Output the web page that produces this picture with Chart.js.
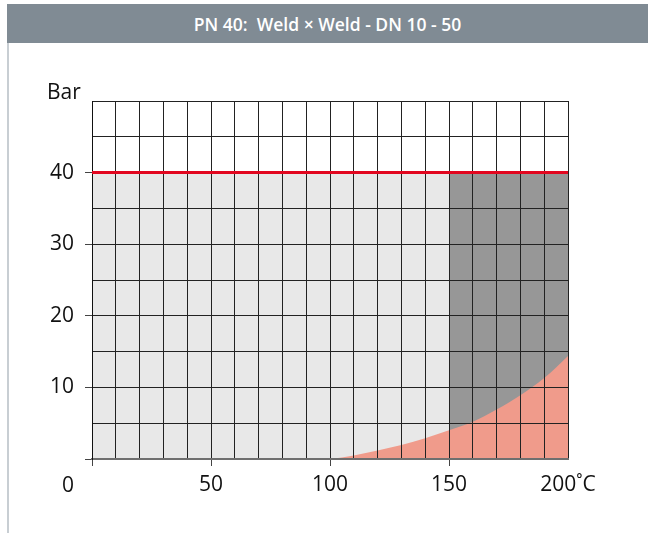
<!DOCTYPE html>
<html>
<head>
<meta charset="utf-8">
<script src="https://cdn.jsdelivr.net/npm/chart.js@4.4.1/dist/chart.umd.min.js"></script>
<style>
    body { margin: 0; width: 648px; height: 533px; background: #fff; position: relative; overflow: hidden; }
    #header {
        position: absolute; left: 7px; top: 4px; width: 641px; height: 39px;
        background: #808b94; color: #fff;
        font-family: 'Open Sans', sans-serif; font-weight: 600; font-size: 17.5px;
        line-height: 40px; white-space: pre; text-align: center;
    }
    #sideLine { position: absolute; left: 7px; top: 43px; width: 2px; height: 490px; background: #c8ced3; }
    #chartBox { position: absolute; left: 0; top: 0; width: 648px; height: 533px; }
</style>
</head>
<body>
<div id="header">PN 40:  Weld × Weld - DN 10 - 50</div>
<div id="sideLine"></div>
<div id="chartBox"><canvas id="chart"></canvas></div>

<script>
// axis ranges (°C and bar)
const tempMin = 0;
const tempMax = 200;
const pressureMin = 0;
const pressureMax = 50;

// max working pressure line
const pnTemps = [0, 200];
const pnPressure = [40, 40];

// light grey zone and dark grey zone
const lightZoneTemps = [0, 150];
const lightZonePressure = [40, 40];
const darkZoneTemps = [150, 200];
const darkZonePressure = [40, 40];

// red curve (temperature vs. pressure)
const curveTemps = [100, 110, 120, 130, 140, 150, 160, 170, 180, 190, 200];
const curvePressure = [0, 0.5, 1.2, 1.95, 2.9, 4.0, 5.2, 6.9, 8.9, 11.3, 14.4];

// tick labels
const xLabels = { 50: '50', 100: '100', 150: '150', 200: '200˚C' };
const yLabels = [10, 20, 30, 40];
const xTicksMarked = [0, 50, 100, 150];

const toPoints = (xs, ys) => xs.map((x, i) => ({ x: x, y: ys[i] }));

const fontLabels = { family: "'Open Sans', sans-serif", size: 21 };

// grid must sit above the filled zones, the red line above everything
const gridOnTop = {
    id: 'gridOnTop',
    beforeDatasetDraw(chart, args) {
        if (args.index !== 0) return;
        chart.scales.x.drawGrid(chart.chartArea);
        chart.scales.y.drawGrid(chart.chartArea);
        chart.scales.x.drawBorder();
        chart.scales.y.drawBorder();
    },
    afterDraw(chart) {
        const ctx = chart.ctx;
        const xs = chart.scales.x;
        ctx.save();
        ctx.fillStyle = '#111';
        ctx.font = "21px 'Open Sans', sans-serif";
        ctx.textAlign = 'left';
        ctx.textBaseline = 'alphabetic';
        ctx.fillText('Bar', 47, 99);
        ctx.textAlign = 'center';
        ctx.fillText('0', xs.getPixelForValue(0) - 24, xs.top + 33);
        ctx.restore();
    }
};

const ctx = document.getElementById('chart').getContext('2d');
const chart = new Chart(ctx, {
    type: 'line',
    data: {
        datasets: [
            {
                label: 'PN 40',
                data: toPoints(pnTemps, pnPressure),
                borderColor: '#e2061f',
                borderWidth: 3,
                pointRadius: 0,
                fill: false,
                order: 0
            },
            {
                label: 'curve',
                data: toPoints(curveTemps, curvePressure),
                borderColor: 'rgba(0,0,0,0)',
                backgroundColor: '#f09b8b',
                borderWidth: 0,
                pointRadius: 0,
                cubicInterpolationMode: 'monotone',
                fill: 'origin',
                order: 1
            },
            {
                label: 'dark',
                data: toPoints(darkZoneTemps, darkZonePressure),
                borderColor: 'rgba(0,0,0,0)',
                backgroundColor: '#979797',
                borderWidth: 0,
                pointRadius: 0,
                fill: 'origin',
                order: 2
            },
            {
                label: 'light',
                data: toPoints(lightZoneTemps, lightZonePressure),
                borderColor: 'rgba(0,0,0,0)',
                backgroundColor: '#e8e8e8',
                borderWidth: 0,
                pointRadius: 0,
                fill: 'origin',
                order: 3
            }
        ]
    },
    options: {
        responsive: true,
        maintainAspectRatio: false,
        animation: false,
        events: [],
        layout: { padding: { top: 101, right: 80, left: 0, bottom: 0 } },
        plugins: {
            legend: { display: false },
            tooltip: { enabled: false },
            title: { display: false }
        },
        scales: {
            x: {
                type: 'linear',
                min: tempMin,
                max: tempMax,
                afterFit: (s) => { s.height = 74; },
                afterBuildTicks: (s) => {
                    s.ticks = [];
                    for (let v = tempMin; v <= tempMax; v += 10) s.ticks.push({ value: v });
                },
                ticks: {
                    autoSkip: false,
                    maxRotation: 0,
                    padding: 6,
                    color: '#111',
                    font: fontLabels,
                    callback: (v) => xLabels[v] || ''
                },
                grid: {
                    color: '#222',
                    lineWidth: 1,
                    tickLength: 7,
                    tickColor: (c) => xTicksMarked.includes(c.tick.value) ? '#444' : 'rgba(0,0,0,0)'
                },
                border: { color: '#6f6f6f', width: 2 }
            },
            y: {
                type: 'linear',
                min: pressureMin,
                max: pressureMax,
                afterFit: (s) => { s.width = 92; },
                afterBuildTicks: (s) => {
                    s.ticks = [];
                    for (let v = pressureMin; v <= pressureMax; v += 5) s.ticks.push({ value: v });
                },
                ticks: {
                    autoSkip: false,
                    padding: 11,
                    color: '#111',
                    font: fontLabels,
                    callback: (v) => yLabels.includes(v) ? String(v) : ''
                },
                grid: {
                    color: '#222',
                    lineWidth: 1,
                    tickLength: 7,
                    tickColor: (c) => (yLabels.includes(c.tick.value) || c.tick.value === 0) ? '#444' : 'rgba(0,0,0,0)'
                },
                border: { color: '#111', width: 1 }
            }
        }
    },
    plugins: [gridOnTop]
});
</script>
</body>
</html>
